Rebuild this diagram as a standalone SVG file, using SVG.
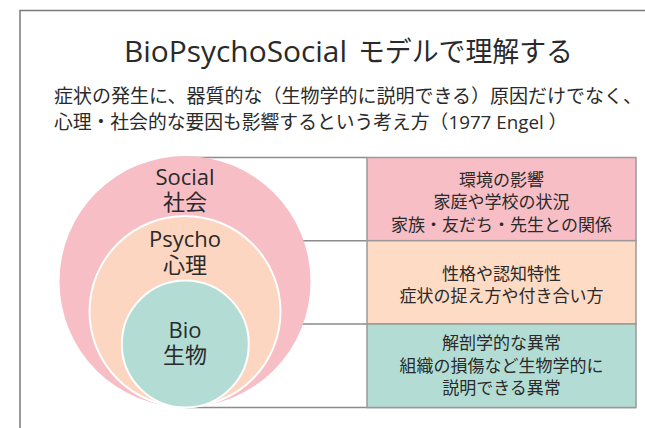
<svg xmlns="http://www.w3.org/2000/svg" width="645" height="428" viewBox="0 0 645 428">
<style>
text{font-family:"Open Sans","Noto Sans CJK JP",sans-serif;fill:#2a2a2a;text-anchor:middle}
.frame{stroke:#7a7a7a;stroke-width:1.5;fill:none}
.conn{stroke:#8c8c8c;stroke-width:1.5;fill:none}
.box{stroke:#9a9a9a;stroke-width:1.5}
.bt{font-size:17px}
.ct{font-size:22px}
.sub{font-size:18.8px;text-anchor:start}
</style>
<rect width="645" height="428" fill="#fff"/>
<path class="frame" d="M20 428 V10.5 H645"/>
<g id="title">
<text x="124" y="62" style="font-size:30px;text-anchor:start" textLength="223" lengthAdjust="spacingAndGlyphs">BioPsychoSocial</text>
<text x="358" y="62" style="font-size:28px;text-anchor:start" textLength="215" lengthAdjust="spacingAndGlyphs">モデルで理解する</text>
</g>
<g id="subtitle">
<text class="sub" x="54" y="103" textLength="588" lengthAdjust="spacingAndGlyphs">症状の発生に、器質的な（生物学的に説明できる）原因だけでなく、</text>
<text class="sub" x="54" y="129">心理・社会的な要因も影響するという考え方（1977 Engel ）</text>
</g>
<g id="connectors">
<path class="conn" d="M185 157.5 H367 M185 240.7 H367 M185 324 H367 M185 407.5 H636"/>
</g>
<g id="social">
<circle cx="185" cy="281.5" r="125.5" fill="#f7bec6"/>
<text class="ct" x="185" y="185">Social<tspan x="185" y="210">社会</tspan></text>
</g>
<g id="psycho">
<circle cx="185" cy="311.5" r="95.5" fill="#fcd6c0" stroke="#fff" stroke-width="2"/>
<text class="ct" x="185" y="247">Psycho<tspan x="185" y="273">心理</tspan></text>
</g>
<g id="bio">
<circle cx="185.3" cy="344" r="63.5" fill="#b3ddd4" stroke="#fff" stroke-width="2"/>
<text class="ct" x="185" y="338">Bio<tspan x="185" y="363">生物</tspan></text>
</g>
<g id="box-social">
<rect class="box" x="367" y="157.5" width="269" height="83.2" fill="#f7bec6"/>
<text class="bt" x="501.5" y="186">環境の影響</text>
<text class="bt" x="501.5" y="208">家庭や学校の状況</text>
<text class="bt" x="501.5" y="230.5">家族・友だち・先生との関係</text>
</g>
<g id="box-psycho">
<rect class="box" x="367" y="240.7" width="269" height="83.3" fill="#fddbc5"/>
<text class="bt" x="501.5" y="280">性格や認知特性</text>
<text class="bt" x="501.5" y="301.5">症状の捉え方や付き合い方</text>
</g>
<g id="box-bio">
<rect class="box" x="367" y="324" width="269" height="83.5" fill="#b3ddd4"/>
<text class="bt" x="501.5" y="349">解剖学的な異常</text>
<text class="bt" x="501.5" y="371.5">組織の損傷など生物学的に</text>
<text class="bt" x="501.5" y="394">説明できる異常</text>
</g>
</svg>
